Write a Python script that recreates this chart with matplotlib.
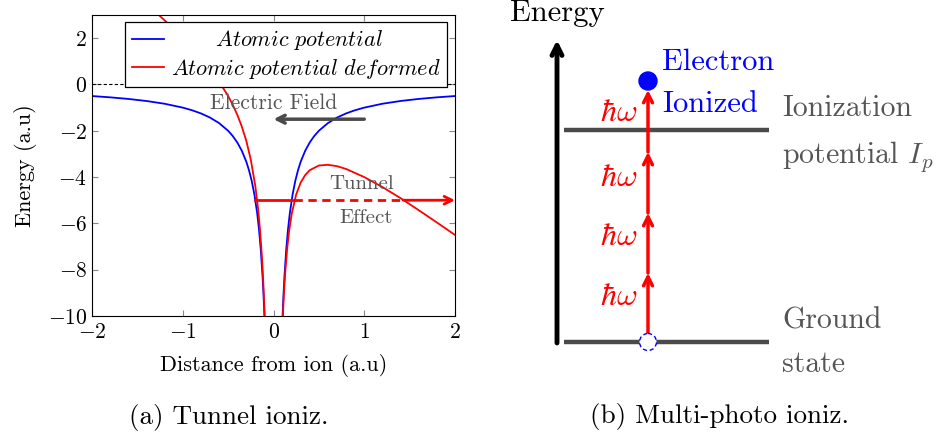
import matplotlib
matplotlib.use("Agg")
import matplotlib.pyplot as plt
from matplotlib.lines import Line2D
from matplotlib.patches import Circle

plt.rcParams["font.family"] = "cmr10"
plt.rcParams["mathtext.fontset"] = "cm"
plt.rcParams["axes.formatter.use_mathtext"] = True

# ---- panel (a): potentials ----
blue_x_left = [-2.0, -1.8, -1.6, -1.4, -1.2, -1.0, -0.9, -0.8, -0.7, -0.6, -0.5, -0.45, -0.4,
               -0.35, -0.3, -0.27, -0.24, -0.21, -0.18, -0.16, -0.14, -0.12, -0.11, -0.1, -0.095]
blue_y_left = [-0.5, -0.556, -0.625, -0.714, -0.833, -1.0, -1.111, -1.25, -1.429, -1.667, -2.0,
               -2.222, -2.5, -2.857, -3.333, -3.704, -4.167, -4.762, -5.556, -6.25, -7.143,
               -8.333, -9.091, -10.0, -10.53]
blue_x_right = [0.095, 0.1, 0.11, 0.12, 0.14, 0.16, 0.18, 0.21, 0.24, 0.27, 0.3, 0.35, 0.4,
                0.45, 0.5, 0.6, 0.7, 0.8, 0.9, 1.0, 1.2, 1.4, 1.6, 1.8, 2.0]
blue_y_right = [-10.53, -10.0, -9.091, -8.333, -7.143, -6.25, -5.556, -4.762, -4.167, -3.704,
                -3.333, -2.857, -2.5, -2.222, -2.0, -1.667, -1.429, -1.25, -1.111, -1.0,
                -0.833, -0.714, -0.625, -0.556, -0.5]

red_x_left = [-1.3, -1.2, -1.1, -1.0, -0.9, -0.8, -0.7, -0.6, -0.5, -0.45, -0.4, -0.35, -0.3,
              -0.25, -0.2, -0.17, -0.15, -0.13, -0.12, -0.11, -0.1, -0.095]
red_y_left = [3.13, 2.77, 2.39, 2.0, 1.59, 1.15, 0.67, 0.13, -0.5, -0.87, -1.3, -1.81, -2.43,
              -3.25, -4.4, -5.37, -6.22, -7.30, -7.97, -8.76, -9.7, -10.24]
red_x_right = [0.095, 0.1, 0.11, 0.12, 0.13, 0.15, 0.17, 0.2, 0.25, 0.3, 0.35, 0.4, 0.5, 0.6,
               0.7, 0.8, 1.0, 1.2, 1.4, 1.6, 1.8, 2.0]
red_y_right = [-10.81, -10.3, -9.42, -8.69, -8.08, -7.12, -6.39, -5.6, -4.75, -4.23, -3.91,
               -3.7, -3.5, -3.47, -3.53, -3.65, -4.0, -4.43, -4.91, -5.43, -5.96, -6.5]

xticks = [-2, -1, 0, 1, 2]
yticks = [-10, -8, -6, -4, -2, 0, 2]

tunnel_level = -5
tunnel_x = [-0.2, 0.23, 1.43, 2.0]  # start, barrier in, barrier out, end
field_x = [1.0, 0.0]
field_y = -1.5

# ---- panel (b): energy levels (figure pixels) ----
ground_y = 342
ionization_y = 130
photon_tips = [273, 213, 152, 90]
photon_label_y = [297, 237, 178, 113]
red_x = 648

gray = "#4a4a4a"
textgray = "#555555"

fig = plt.figure(figsize=(9.42, 4.36), dpi=100)
W, H = 942, 436
ax = fig.add_axes([92 / W, 1 - 316 / H, (455 - 92) / W, (316 - 15) / H])

ax.plot(blue_x_left, blue_y_left, color="blue", lw=1.3)
ax.plot(blue_x_right, blue_y_right, color="blue", lw=1.3)
ax.plot(red_x_left, red_y_left, color="red", lw=1.3)
ax.plot(red_x_right, red_y_right, color="red", lw=1.3)
ax.axhline(0, color="black", ls=(0, (3, 2)), lw=0.8)

# tunnel arrow
ax.plot(tunnel_x[:2], [tunnel_level] * 2, color="red", lw=2)
ax.plot(tunnel_x[1:3], [tunnel_level] * 2, color="red", lw=2, ls=(0, (3, 2)))
ax.annotate("", xy=(tunnel_x[3], tunnel_level), xytext=(tunnel_x[2], tunnel_level),
            arrowprops=dict(arrowstyle="->", color="red", lw=2, mutation_scale=14,
                            shrinkA=0, shrinkB=0), annotation_clip=False)
ax.text(0.97, -4.3, "Tunnel", color=textgray, fontsize=15, ha="center", va="center")
ax.text(1.02, -5.75, "Effect", color=textgray, fontsize=15, ha="center", va="center")

# electric field arrow
ax.annotate("", xy=(field_x[1], field_y), xytext=(field_x[0], field_y),
            arrowprops=dict(arrowstyle="->", color=gray, lw=2.5, mutation_scale=14,
                            shrinkA=0, shrinkB=0))
ax.text(0.0, -0.83, "Electric Field", color=textgray, fontsize=15.5, ha="center", va="center")

ax.set_xlim(-2, 2)
ax.set_ylim(-10, 3)
ax.set_xticks(xticks)
ax.set_yticks(yticks)
ax.tick_params(direction="in", top=True, right=True, length=4, color="#888888", labelsize=15.5)
ax.tick_params(axis="x", pad=5)
ax.set_xlabel("Distance from ion (a.u)", fontsize=16, labelpad=8)
ax.set_ylabel("Energy (a.u)", fontsize=16, labelpad=8)

handles = [Line2D([], [], color="blue", lw=1.3), Line2D([], [], color="red", lw=1.3)]
leg = ax.legend(handles, [r"$\qquad\;Atomic\ potential$", r"$Atomic\ potential\ deformed$"],
                loc="upper right", bbox_to_anchor=(0.978, 0.978), borderaxespad=0,
                fancybox=False, edgecolor="black", framealpha=1, fontsize=16,
                handlelength=1.45, borderpad=0.3, labelspacing=0.2, handletextpad=0.3)
leg.get_frame().set_linewidth(0.9)

fig.text(229 / W, 1 - 417 / H, "(a) Tunnel ioniz.", fontsize=19.5, ha="center", va="center")

# ---- panel (b) drawn in pixel space ----
ov = fig.add_axes([0, 0, 1, 1])
ov.set_xlim(0, W)
ov.set_ylim(H, 0)
ov.axis("off")

ov.annotate("", xy=(557, 40), xytext=(557, ground_y + 1),
            arrowprops=dict(arrowstyle="->", color="black", lw=3.5, mutation_scale=18,
                            shrinkA=0, shrinkB=0))
ov.text(510, 13, "Energy", fontsize=22, ha="left", va="center")

for lev in [ground_y, ionization_y]:
    ov.plot([564, 769], [lev, lev], color=gray, lw=3.2, solid_capstyle="butt")

start = ground_y - 8
for tip in photon_tips:
    ov.annotate("", xy=(red_x, tip), xytext=(red_x, start),
                arrowprops=dict(arrowstyle="->", color="red", lw=2.5, mutation_scale=16,
                                shrinkA=0, shrinkB=0))
    start = tip
for y in photon_label_y:
    ov.text(637, y, r"$\hbar\omega$", color="red", fontsize=23, ha="right", va="center")

ov.add_patch(Circle((red_x, 81), 9, color="blue", zorder=5))
ov.add_patch(Circle((red_x, ground_y), 8.5, facecolor="white", edgecolor="blue", lw=1,
                    ls=(0, (3, 2)), zorder=5))

ov.text(662, 62, "Electron", color="blue", fontsize=22, ha="left", va="center")
ov.text(662, 104, "Ionized", color="blue", fontsize=22, ha="left", va="center")
ov.text(782, 108, "Ionization", color=textgray, fontsize=21.5, ha="left", va="center")
ov.text(782, 157, r"potential $I_p$", color=textgray, fontsize=21.5, ha="left", va="center")
ov.text(782, 321, "Ground", color=textgray, fontsize=21.5, ha="left", va="center")
ov.text(782, 364, "state", color=textgray, fontsize=21.5, ha="left", va="center")

ov.text(720, 416, "(b) Multi-photo ioniz.", fontsize=19.5, ha="center", va="center")

fig.savefig("out.png", dpi=100)
